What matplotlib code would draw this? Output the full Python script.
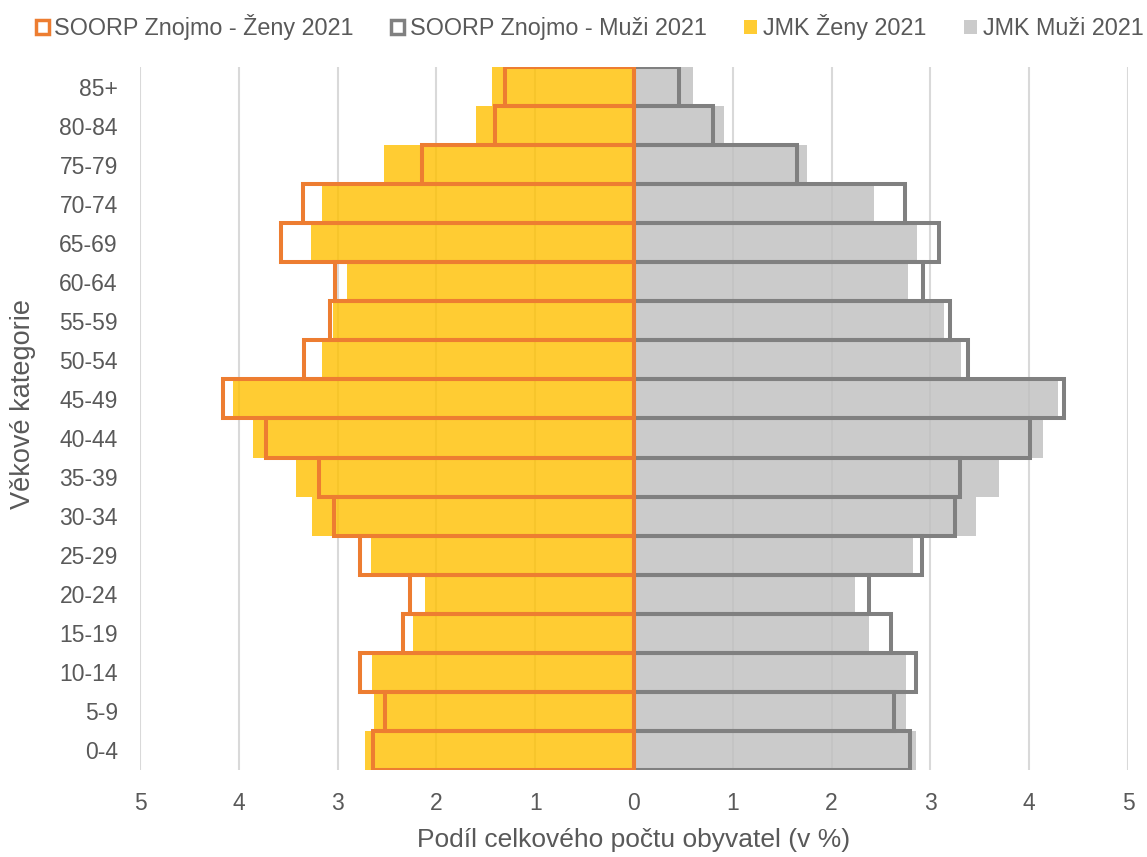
import matplotlib.pyplot as plt
import numpy as np

# age groups, bottom to top
categories = ['0-4', '5-9', '10-14', '15-19', '20-24', '25-29', '30-34', '35-39', '40-44',
              '45-49', '50-54', '55-59', '60-64', '65-69', '70-74', '75-79', '80-84', '85+']

# share of population (%)
soorp_zeny = [2.64, 2.52, 2.77, 2.34, 2.27, 2.77, 3.04, 3.19, 3.72,
              4.16, 3.34, 3.08, 3.03, 3.57, 3.35, 2.15, 1.41, 1.31]
soorp_muzi = [2.79, 2.63, 2.85, 2.60, 2.38, 2.91, 3.25, 3.30, 4.01,
              4.35, 3.38, 3.20, 2.93, 3.09, 2.74, 1.65, 0.80, 0.46]
jmk_zeny = [2.72, 2.63, 2.65, 2.24, 2.12, 2.66, 3.26, 3.42, 3.86,
            4.06, 3.16, 3.05, 2.90, 3.27, 3.16, 2.53, 1.60, 1.44]
jmk_muzi = [2.85, 2.75, 2.75, 2.38, 2.24, 2.82, 3.46, 3.69, 4.14,
            4.29, 3.31, 3.14, 2.77, 2.86, 2.43, 1.75, 0.91, 0.60]

plt.rcParams['font.family'] = ['Liberation Sans', 'DejaVu Sans']
txt = '#595959'

fig = plt.figure(figsize=(11.47, 8.57), dpi=100)
ax = fig.add_axes([140 / 1147, 1 - 770 / 857, 988 / 1147, 703 / 857])

y = np.arange(len(categories))
lw = 2.9

# JMK filled bars
ax.barh(y, -np.array(jmk_zeny), height=1.0, color='#FFC000', alpha=0.8, zorder=2)
ax.barh(y, jmk_muzi, height=1.0, color='#BFBFBF', alpha=0.8, zorder=2)
# SOORP outlined bars
ax.barh(y, soorp_muzi, height=1.0, facecolor='none', edgecolor='#808080',
        linewidth=lw, zorder=3, joinstyle='miter')
ax.barh(y, -np.array(soorp_zeny), height=1.0, facecolor='none', edgecolor='#ED7D31',
        linewidth=lw, zorder=4, joinstyle='miter')

ax.set_xlim(-5, 5)
ax.set_ylim(-0.5, len(categories) - 0.5)
ticks = np.arange(-5, 6)
ax.set_xticks(ticks)
ax.set_xticklabels([str(abs(t)) for t in ticks])
ax.set_yticks(y)
ax.set_yticklabels(categories)
ax.tick_params(axis='both', length=0, labelsize=16.5, labelcolor=txt)
ax.tick_params(axis='x', pad=16)
ax.tick_params(axis='y', pad=16)
ax.grid(axis='x', color='#D9D9D9', linewidth=1.5, zorder=0)
ax.set_axisbelow(True)
for s in ax.spines.values():
    s.set_visible(False)

ax.set_xlabel('Podíl celkového počtu obyvatel (v %)', fontsize=19, color=txt, labelpad=9)
ax.set_ylabel('Věkové kategorie', fontsize=19.5, color=txt, labelpad=12)
ax.yaxis.set_label_coords(-0.105, 0.52)

handles = [
    plt.Rectangle((0, 0), 1, 1, facecolor='white', edgecolor='#ED7D31', linewidth=2.5),
    plt.Rectangle((0, 0), 1, 1, facecolor='white', edgecolor='#808080', linewidth=2.5),
    plt.Rectangle((0, 0), 1, 1, facecolor='#FFC000', alpha=0.8, edgecolor='none'),
    plt.Rectangle((0, 0), 1, 1, facecolor='#BFBFBF', alpha=0.8, edgecolor='none'),
]
labels = ['SOORP Znojmo - Ženy 2021', 'SOORP Znojmo - Muži 2021', 'JMK Ženy 2021', 'JMK Muži 2021']
leg = fig.legend(handles, labels, loc='center', bbox_to_anchor=(0.514, 1 - 27 / 857), ncol=4,
                 frameon=False, fontsize=16.85, handlelength=0.55, handleheight=0.55,
                 handletextpad=0.25, columnspacing=1.6, borderaxespad=0)
for t in leg.get_texts():
    t.set_color(txt)

fig.savefig('out.png', dpi=100)
